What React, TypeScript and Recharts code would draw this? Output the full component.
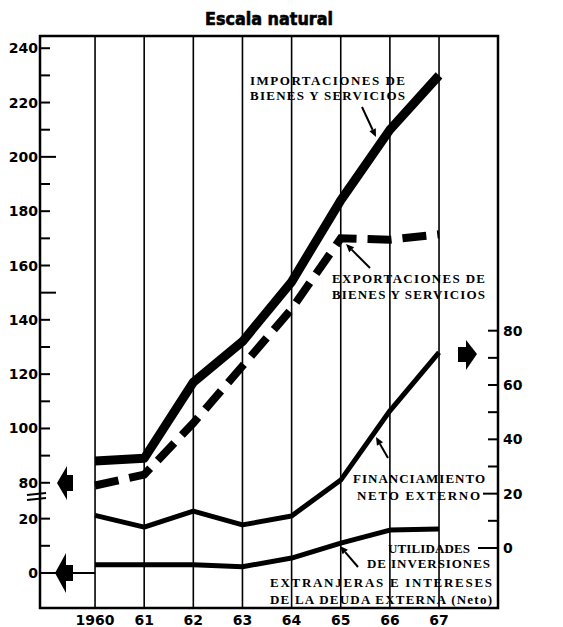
import {
  CartesianGrid,
  ComposedChart,
  Line,
  ReferenceArea,
  ReferenceLine,
  XAxis,
  YAxis
} from "recharts";

const YEARS = [1960, 1961, 1962, 1963, 1964, 1965, 1966, 1967];
const YEAR_LABELS = ["1960", "61", "62", "63", "64", "65", "66", "67"];

// escala izquierda (parte alta, sobre el corte)
const IMPORTACIONES = [88, 89, 117, 132, 154, 184, 210, 230];
const EXPORTACIONES = [79, 83, 102, 123, 144, 170, 169.5, 171.5];
// escala izquierda (parte baja, 0-20)
const UTILIDADES = [3, 3, 3, 2.3, 5.5, 11, 15.8, 16.2];
// escala derecha
const FINANCIAMIENTO = [12, 7.7, 13.6, 8.5, 11.8, 25, 50.5, 72];

const LEFT_LOW_TICKS = [0, 10, 20];
const LEFT_HIGH_TICKS = [80, 90, 100, 110, 120, 130, 140, 150, 160, 170, 180, 190, 200, 210, 220, 230, 240];
const RIGHT_TICKS = [0, 10, 20, 30, 40, 50, 60, 70, 80];

// the left scale is cut between 20 and 80
const BREAK_SHIFT = 46.8;
const upper = (v: number) => v - BREAK_SHIFT;

const X_DOMAIN: [number, number] = [1958.88, 1968.2];
const LEFT_DOMAIN: [number, number] = [-12.9, 197.7];
const RIGHT_DOMAIN: [number, number] = [-22.1, 188.5];

const data = YEARS.map((year, i) => ({
  year,
  imp: upper(IMPORTACIONES[i]),
  exp: upper(EXPORTACIONES[i]),
  util: UTILIDADES[i],
  fin: FINANCIAMIENTO[i]
}));

const leftTicks = [...LEFT_LOW_TICKS, ...LEFT_HIGH_TICKS.map(upper)];

const tickFont = {
  fontFamily: "DejaVu Sans, sans-serif",
  fontWeight: 700,
  fontSize: 14,
  fill: "#000"
};

function LeftTick(props: any) {
  const { x, y, payload } = props;
  const shown = payload.value > 25 ? Math.round(payload.value + BREAK_SHIFT) : payload.value;
  const len = shown === 200 || shown === 150 ? 16 : 10;
  return (
    <g>
      <line x1={x} x2={x + len} y1={y} y2={y} stroke="#000" strokeWidth={2} />
      {shown % 20 === 0 && (
        <text x={x - 2} y={y + 5} textAnchor="end" {...tickFont}>
          {shown}
        </text>
      )}
    </g>
  );
}

function RightTick(props: any) {
  const { x, y, payload } = props;
  const v = payload.value;
  const len = v === 0 ? 20 : v === 20 ? 15 : 10;
  return (
    <g>
      <line x1={x - len} x2={x} y1={y} y2={y} stroke="#000" strokeWidth={2} />
      {v % 20 === 0 && (
        <text x={x + 5} y={y + 5} textAnchor="start" {...tickFont}>
          {v}
        </text>
      )}
    </g>
  );
}

function YearTick(props: any) {
  const { x, y, payload } = props;
  const i = YEARS.indexOf(payload.value);
  return (
    <text x={x} y={y + 17} textAnchor="middle" {...tickFont}>
      {YEAR_LABELS[i]}
    </text>
  );
}

const note = {
  fontFamily: "Liberation Serif, serif",
  fontWeight: 700,
  fontSize: 13,
  fill: "#000",
  lengthAdjust: "spacing" as const
};

function Arrow({ x1, y1, x2, y2 }: { x1: number; y1: number; x2: number; y2: number }) {
  const a = Math.atan2(y2 - y1, x2 - x1);
  const h = 8;
  const w = 3.5;
  const bx = x2 - h * Math.cos(a);
  const by = y2 - h * Math.sin(a);
  const p = `${x2},${y2} ${bx - w * Math.sin(a)},${by + w * Math.cos(a)} ${bx + w * Math.sin(a)},${by - w * Math.cos(a)}`;
  return (
    <g>
      <line x1={x1} y1={y1} x2={bx} y2={by} stroke="#000" strokeWidth={2} />
      <polygon points={p} fill="#000" />
    </g>
  );
}

export default function App() {
  return (
    <div style={{ position: "absolute", left: 0, top: 0, width: 563, height: 627, background: "#fff" }}>
      <ComposedChart width={563} height={627} data={data} margin={{ top: 36, right: 0, bottom: 0, left: 0 }}>
        <CartesianGrid horizontal={false} stroke="#000" strokeWidth={1.6} yAxisId="left" />
        <XAxis
          dataKey="year"
          type="number"
          domain={X_DOMAIN}
          ticks={YEARS}
          allowDataOverflow
          axisLine={false}
          tickLine={false}
          tickSize={0}
          tickMargin={0}
          height={19}
          tick={<YearTick />}
        />
        <YAxis
          yAxisId="left"
          type="number"
          domain={LEFT_DOMAIN}
          ticks={leftTicks}
          allowDataOverflow
          width={40}
          axisLine={false}
          tickLine={false}
          tickSize={0}
          tickMargin={0}
          interval={0}
          tick={<LeftTick />}
        />
        <YAxis
          yAxisId="right"
          orientation="right"
          type="number"
          domain={RIGHT_DOMAIN}
          ticks={RIGHT_TICKS}
          allowDataOverflow
          width={65}
          axisLine={false}
          tickLine={false}
          tickSize={0}
          tickMargin={0}
          interval={0}
          tick={<RightTick />}
        />
        <ReferenceArea
          yAxisId="left"
          x1={X_DOMAIN[0]}
          x2={X_DOMAIN[1]}
          y1={LEFT_DOMAIN[0]}
          y2={LEFT_DOMAIN[1]}
          fill="none"
          stroke="#000"
          strokeWidth={2.5}
        />
        <ReferenceLine
          yAxisId="left"
          segment={[
            { x: X_DOMAIN[0], y: 0 },
            { x: YEARS[0], y: 0 }
          ]}
          stroke="#000"
          strokeWidth={2}
        />
        <Line
          yAxisId="left"
          dataKey="imp"
          type="linear"
          stroke="#000"
          strokeWidth={9}
          strokeLinejoin="round"
          dot={false}
          isAnimationActive={false}
        />
        <Line
          yAxisId="left"
          dataKey="exp"
          type="linear"
          stroke="#000"
          strokeWidth={8}
          strokeDasharray="24 11"
          dot={false}
          isAnimationActive={false}
        />
        <Line
          yAxisId="left"
          dataKey="util"
          type="linear"
          stroke="#000"
          strokeWidth={5}
          strokeLinejoin="round"
          dot={false}
          isAnimationActive={false}
        />
        <Line
          yAxisId="right"
          dataKey="fin"
          type="linear"
          stroke="#000"
          strokeWidth={5}
          strokeLinejoin="round"
          dot={false}
          isAnimationActive={false}
        />
      </ComposedChart>
      <svg width={563} height={627} style={{ position: "absolute", left: 0, top: 0, pointerEvents: "none" }}>
        <text x={269} y={25} textAnchor="middle" fontFamily="DejaVu Sans, sans-serif" fontWeight={700} fontSize={17} textLength={128} lengthAdjust="spacingAndGlyphs" stroke="#000" strokeWidth={0.6}>
          Escala natural
        </text>

        <text x={250} y={85} textLength={155} {...note}>IMPORTACIONES DE</text>
        <text x={250} y={100} textLength={155} {...note}>BIENES Y SERVICIOS</text>
        <Arrow x1={362} y1={107} x2={376} y2={137} />

        <text x={332} y={283} textLength={153} {...note}>EXPORTACIONES DE</text>
        <text x={332} y={299} textLength={153} {...note}>BIENES Y SERVICIOS</text>
        <Arrow x1={370} y1={268} x2={346} y2={244} />

        <text x={353} y={483} textLength={132} {...note}>FINANCIAMIENTO</text>
        <text x={357} y={500} textLength={123} {...note}>NETO  EXTERNO</text>
        <Arrow x1={388} y1={458} x2={376} y2={437} />

        <text x={388} y={553} textLength={82} {...note}>UTILIDADES</text>
        <text x={367} y={568} textLength={123} {...note}>DE INVERSIONES</text>
        <text x={270} y={587} textLength={222} {...note}>EXTRANJERAS  E  INTERESES</text>
        <text x={270} y={604} textLength={222} {...note}>DE LA DEUDA EXTERNA (Neto)</text>
        <Arrow x1={358} y1={567} x2={340} y2={546} />

        <polygon points="57,483 67,466 67,475 73,475 73,491 67,491 67,500" fill="#000" />
        <polygon points="55,573 66,553 66,565 73,565 73,581 66,581 66,593" fill="#000" />
        <polygon points="477,354 466,340 466,347 458,347 458,362 466,362 466,370" fill="#000" />

        <line x1={27} y1={495} x2={46} y2={493} stroke="#000" strokeWidth={2} />
        <line x1={27} y1={500} x2={46} y2={498} stroke="#000" strokeWidth={2} />
      </svg>
    </div>
  );
}
